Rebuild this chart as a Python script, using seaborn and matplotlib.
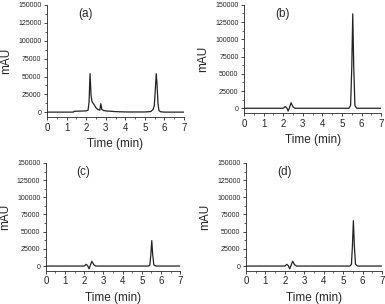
import matplotlib
matplotlib.use("Agg")
import matplotlib.pyplot as plt
import seaborn as sns
import pandas as pd
from matplotlib.ticker import MultipleLocator

sns.set_style("ticks")
plt.rcParams['font.family'] = ['Liberation Sans', 'DejaVu Sans']

# Panel (a) trace key points
time_a = [0, 1.35, 1.4, 1.45, 2.0, 2.1, 2.15, 2.2, 2.25, 2.3, 2.4, 2.5, 2.6, 2.7, 2.75, 2.8, 2.9, 3.0, 3.5, 4.0, 5.0, 5.3, 5.42, 5.48, 5.53, 5.58, 5.62, 5.67, 5.72, 5.8, 6.0, 7.0]
mau_a = [300, 300, 1500, 1500, 2000, 3000, 15000, 54000, 24000, 15000, 11000, 6500, 4000, 3000, 12000, 4000, 2500, 2000, 1000, 500, 500, 1000, 4000, 9000, 30000, 54000, 40000, 12000, 2500, 800, 300, 300]

# Panel (b)
time_b = [0, 2.0, 2.1, 2.18, 2.25, 2.32, 2.4, 2.5, 2.6, 5.35, 5.44, 5.5, 5.55, 5.6, 5.66, 5.75, 7.0]
mau_b = [0, 0, 2500, 500, -4000, 1000, 8000, 2000, 0, 0, 4000, 60000, 137000, 60000, 4000, 0, 0]

# Panel (c)
time_c = [0, 2.0, 2.1, 2.18, 2.25, 2.32, 2.4, 2.5, 2.6, 5.35, 5.42, 5.47, 5.52, 5.57, 5.63, 5.75, 7.0]
mau_c = [0, 0, 2500, 500, -4000, 1000, 7000, 2000, 0, 0, 1500, 16000, 37000, 16000, 1500, 0, 0]

# Panel (d)
time_d = [0, 2.0, 2.1, 2.18, 2.25, 2.32, 2.4, 2.5, 2.6, 5.35, 5.43, 5.48, 5.53, 5.58, 5.64, 5.75, 7.0]
mau_d = [0, 0, 2500, 500, -4000, 1000, 7000, 2000, 0, 0, 2500, 29000, 66000, 29000, 2500, 0, 0]

panel_labels = ["(a)", "(b)", "(c)", "(d)"]
y_ticks = [0, 25000, 50000, 75000, 100000, 125000, 150000]
x_ticks = [0, 1, 2, 3, 4, 5, 6, 7]

fig = plt.figure(figsize=(3.85, 3.04), dpi=100)
rects = [
    [0.122, 0.614, 0.356, 0.370],
    [0.634, 0.628, 0.356, 0.356],
    [0.119, 0.109, 0.349, 0.355],
    [0.639, 0.109, 0.353, 0.355],
]
series = [(time_a, mau_a), (time_b, mau_b), (time_c, mau_c), (time_d, mau_d)]

for rect, (t, m), lab in zip(rects, series, panel_labels):
    ax = fig.add_axes(rect)
    df = pd.DataFrame({"t": t, "m": m})
    sns.lineplot(data=df, x="t", y="m", ax=ax, color="#222222", linewidth=0.9)
    ax.set_xlim(0, 7)
    ax.set_ylim(-7000, 150000)
    ax.set_xticks(x_ticks)
    ax.set_yticks(y_ticks)
    ax.set_yticklabels([str(v) for v in y_ticks], fontsize=5)
    ax.set_xticklabels([str(v) for v in x_ticks], fontsize=7)
    ax.xaxis.set_minor_locator(MultipleLocator(0.5))
    ax.yaxis.set_minor_locator(MultipleLocator(12500))
    ax.tick_params(axis='both', which='major', length=2.5, width=0.6, pad=1.5, direction='out')
    ax.tick_params(axis='both', which='minor', length=1.5, width=0.5, direction='out')
    ax.set_xlabel("Time (min)", fontsize=8.5, labelpad=4)
    ax.set_ylabel("mAU", fontsize=8.5, labelpad=4)
    ax.text(0.28, 0.92, lab, transform=ax.transAxes, fontsize=8.5, ha='center', va='center')
    sns.despine(ax=ax)
    for s in ax.spines.values():
        s.set_linewidth(0.6)

fig.savefig("out.png", dpi=100)
